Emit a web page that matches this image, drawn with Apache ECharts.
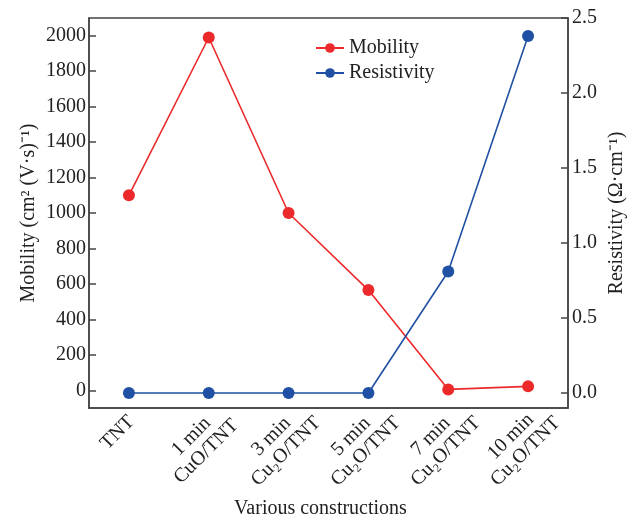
<!DOCTYPE html>
<html>
<head>
<meta charset="utf-8">
<script src="https://cdn.jsdelivr.net/npm/echarts@6/dist/echarts.min.js"></script>
<style>html,body{margin:0;padding:0;background:#fff}#c{width:636px;height:516px}</style>
</head>
<body>
<div id="c"></div>
<script>
const categories = ['TNT', '1 min\nCuO/TNT', '3 min\nCu\u2082O/TNT', '5 min\nCu\u2082O/TNT', '7 min\nCu\u2082O/TNT', '10 min\nCu\u2082O/TNT'];
const mobility = [1100, 1990, 1000, 565, 5, 22];
const resistivity = [0, 0, 0, 0, 0.81, 2.38];
const mobilityTicks = [0, 200, 400, 600, 800, 1000, 1200, 1400, 1600, 1800, 2000];
const resistivityTicks = [0, 0.5, 1.0, 1.5, 2.0, 2.5];

const FONT = '"Liberation Serif", "Times New Roman", serif';
const AX = '#444';
const TXT = '#222';
const chart = echarts.init(document.getElementById('c'));
chart.setOption({
  animation: false,
  textStyle: { fontFamily: FONT },
  grid: { left: 89, right: 68, top: 18, bottom: 108, show: true, borderColor: AX, borderWidth: 1.5,
    outerBoundsMode: 'none', containLabel: false },
  legend: {
    orient: 'vertical', left: 310, top: 33, itemWidth: 28, itemHeight: 12, itemGap: 5,
    textStyle: { fontFamily: FONT, fontSize: 20, color: TXT },
    data: ['Mobility', 'Resistivity']
  },
  xAxis: {
    type: 'category', data: categories, boundaryGap: true,
    name: 'Various constructions', nameLocation: 'middle', nameGap: 91, nameMoveOverlap: false,
    nameTextStyle: { fontFamily: FONT, fontSize: 20, color: TXT, padding: [0, 16, 0, 0] },
    axisLine: { onZero: false, lineStyle: { color: AX, width: 1.5 } },
    axisTick: { inside: true, length: 6, alignWithLabel: true, lineStyle: { color: AX, width: 1.5 } },
    axisLabel: {
      rotate: 45, align: 'center', verticalAlign: 'middle', padding: [0, 14, 14, 0],
      fontFamily: FONT, fontSize: 20, color: TXT, margin: 36, lineHeight: 21, interval: 0,
      formatter: v => v.indexOf('\n') < 0 ? '{t|' + v + '}' : v,
      rich: { t: { fontFamily: FONT, fontSize: 20, color: TXT, lineHeight: 21, padding: [0, 0, 18, 14] } }
    }
  },
  yAxis: [{
    type: 'value', min: -100, max: 2100, position: 'left',
    name: 'Mobility (cm\u00b2 (V\u00b7s)\u207b\u00b9)', nameLocation: 'middle', nameGap: 50, nameMoveOverlap: false,
    nameTextStyle: { fontFamily: FONT, fontSize: 20, color: TXT },
    axisLine: { show: true, lineStyle: { color: AX, width: 1.5 } },
    axisTick: { show: true, inside: true, length: 7, customValues: mobilityTicks, lineStyle: { color: AX, width: 1.5 } },
    axisLabel: { customValues: mobilityTicks, fontFamily: FONT, fontSize: 20, color: TXT, margin: 3,
      formatter: v => String(v) },
    splitLine: { show: false }
  }, {
    type: 'value', min: -0.1, max: 2.5, position: 'right',
    name: 'Resistivity (\u03a9\u00b7cm\u207b\u00b9)', nameLocation: 'middle', nameGap: 39, nameMoveOverlap: false,
    nameTextStyle: { fontFamily: FONT, fontSize: 20, color: TXT },
    axisLine: { show: true, lineStyle: { color: AX, width: 1.5 } },
    axisTick: { show: true, inside: true, length: 7, customValues: resistivityTicks, lineStyle: { color: AX, width: 1.5 } },
    axisLabel: { customValues: resistivityTicks, fontFamily: FONT, fontSize: 20, color: TXT, margin: 4,
      formatter: v => v.toFixed(1) },
    splitLine: { show: false }
  }],
  series: [{
    name: 'Mobility', type: 'line', yAxisIndex: 0, data: mobility,
    symbol: 'circle', symbolSize: 12,
    itemStyle: { color: '#ec2a2b' }, lineStyle: { color: '#ec2a2b', width: 1.6 }
  }, {
    name: 'Resistivity', type: 'line', yAxisIndex: 1, data: resistivity,
    symbol: 'circle', symbolSize: 12,
    itemStyle: { color: '#1f50a3' }, lineStyle: { color: '#1f50a3', width: 1.6 }
  }]
});
</script>
</body>
</html>
